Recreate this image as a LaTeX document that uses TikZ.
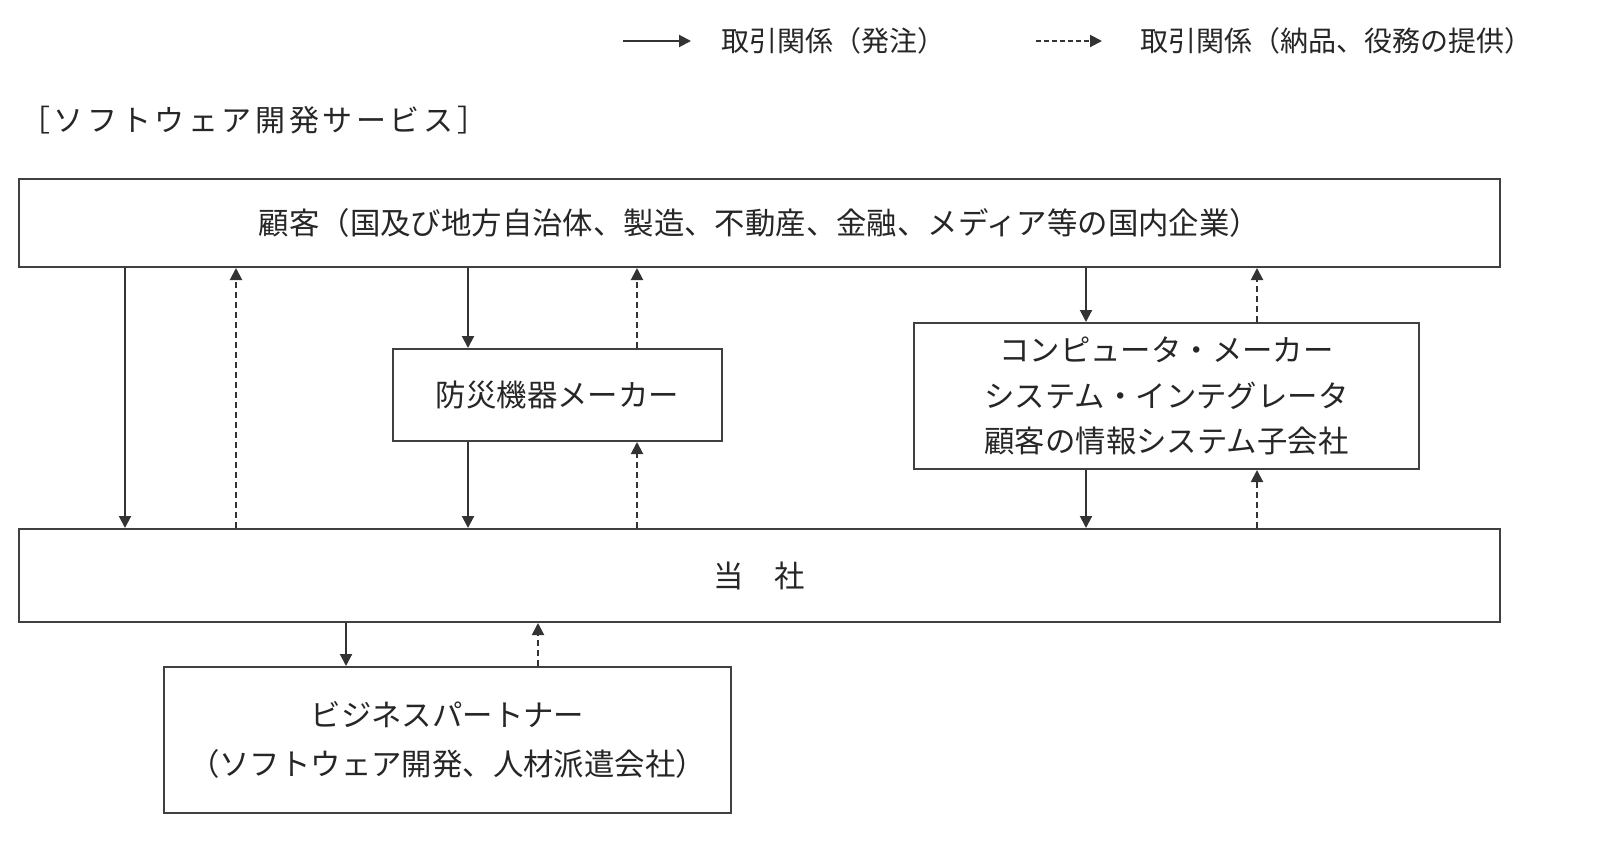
\documentclass[tikz,border=0pt]{standalone}
\usepackage{fontspec}
\newfontfamily\jp{Noto Sans CJK JP}
\newfontfamily\jpwide[LetterSpace=12]{Noto Sans CJK JP}
\usetikzlibrary{arrows.meta}
\begin{document}
\begin{tikzpicture}[x=0.5pt,y=-0.5pt,
  box/.style={draw=black!75,line width=1pt,fill=white,rectangle,inner sep=0pt,
    font=\jp\fontsize{15.2}{22.8}\selectfont,text=black!85,align=center},
  ordr/.style={draw=black!80,line width=1pt,-{Triangle[length=6pt,width=6pt]}},
  dlvr/.style={ordr,dash pattern=on 3pt off 2pt},
  lbl/.style={font=\jp\fontsize{14}{16}\selectfont,text=black!85,inner sep=0pt,anchor=west}]
\useasboundingbox (0,0) rectangle (1600,841);

% legend
\node[lbl] (l1) at (721,41) {取引関係（発注）};
\node[lbl] (l2) at (1140,41) {取引関係（納品、役務の提供）};
\coordinate (s1) at (623,41);
\coordinate (s2) at (1036,41);
\draw[ordr] (s1) -- ([xshift=-15pt]l1.west);
\draw[dlvr,dash pattern=on 2.5pt off 1.5pt] (s2) -- ([xshift=-19pt]l2.west);

% heading
\node[lbl,font=\jpwide\fontsize{15}{17}\selectfont] (head) at (20,120) {［ソフトウェア開発サービス］};

% boxes
\node[box,minimum width=740.5pt,minimum height=44pt] (cust) at (759.5,223)
  {顧客（国及び地方自治体、製造、不動産、金融、メディア等の国内企業）};
\node[box,minimum width=164.5pt,minimum height=46pt] (bosai) at (557.5,395)
  {防災機器メーカー};
\node[box,minimum width=252.5pt,minimum height=73pt,font=\jp\fontsize{15.2}{22.75}\selectfont] (comp) at (1166.5,396)
  {コンピュータ・メーカー\\システム・インテグレータ\\顧客の情報システム子会社};
\node[box,minimum width=740.5pt,minimum height=46.5pt] (tosha) at (759.5,575.5)
  {当　社};
\node[box,minimum width=283.5pt,minimum height=73pt] (bp) at (447.5,740)
  {ビジネスパートナー\\[1.7pt]（ソフトウェア開発、人材派遣会社）};

% connector columns
\coordinate (a1) at (125,0);
\coordinate (a2) at (236,0);
\coordinate (a3) at (468,0);
\coordinate (a4) at (637,0);
\coordinate (a5) at (1086,0);
\coordinate (a6) at (1257,0);
\coordinate (a7) at (346,0);
\coordinate (a8) at (538,0);

\draw[ordr] (cust.south -| a1) -- (tosha.north -| a1);
\draw[dlvr] (tosha.north -| a2) -- (cust.south -| a2);
\draw[ordr] (cust.south -| a3) -- (bosai.north -| a3);
\draw[dlvr] (bosai.north -| a4) -- (cust.south -| a4);
\draw[ordr] (bosai.south -| a3) -- (tosha.north -| a3);
\draw[dlvr] (tosha.north -| a4) -- (bosai.south -| a4);
\draw[ordr] (cust.south -| a5) -- (comp.north -| a5);
\draw[dlvr] (comp.north -| a6) -- (cust.south -| a6);
\draw[ordr] (comp.south -| a5) -- (tosha.north -| a5);
\draw[dlvr] (tosha.north -| a6) -- (comp.south -| a6);
\draw[ordr] (tosha.south -| a7) -- (bp.north -| a7);
\draw[dlvr] (bp.north -| a8) -- (tosha.south -| a8);
\end{tikzpicture}
\end{document}
